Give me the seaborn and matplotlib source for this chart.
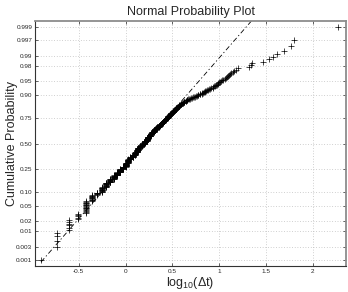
import numpy as np
import seaborn as sns
import matplotlib
matplotlib.use("Agg")
import matplotlib.pyplot as plt
from statistics import NormalDist

# waiting times dt in units of 1/16 and how many times each one occurs (500 in total)
dt16 = [2, 3, 4, 5, 6, 7, 8, 9, 10, 11, 12, 13, 14, 15, 16, 17, 18, 19, 20,
        21, 22, 23, 24, 25, 26, 27, 28, 29, 30, 31, 32, 33, 34, 35, 36, 37, 38,
        39, 40, 41, 42, 43, 44, 45, 46, 47, 48, 49, 50, 51, 52, 53, 54, 55, 56,
        57, 58, 59, 60, 61, 62, 63, 64, 66, 68, 70, 72, 74, 76, 78, 80, 82, 84,
        86, 88, 90, 92, 94, 96, 99, 101, 104, 106, 108, 110, 112, 114, 117, 120,
        123, 125, 128, 132, 136, 139, 142, 145, 148, 151, 154, 157, 161, 165,
        169, 173, 178, 183, 188, 192, 197, 203, 211, 216, 226, 233, 241, 252,
        334, 346, 358, 472, 548, 601, 659, 784, 942, 1009, 2945]
counts = [1, 4, 6, 5, 16, 11, 6, 13, 13, 12, 13, 12, 13, 10, 17, 17, 11, 11, 13,
          12, 12, 10, 9, 9, 8, 11, 12, 10, 6, 7, 9, 5, 6, 5, 6, 5, 5,
          4, 5, 4, 5, 4, 3, 4, 4, 3, 4, 3, 3, 2, 3, 4, 3, 2, 3,
          2, 2, 3, 2, 2, 1, 2, 1, 2, 3, 2, 3, 1, 1, 1, 1, 1, 1,
          1, 1, 1, 1, 1, 1, 1, 1, 1, 1, 1, 1, 1, 1, 1, 1,
          1, 1, 1, 1, 1, 1, 1, 1, 1, 1, 1, 1, 1, 1,
          1, 1, 1, 1, 1, 1, 1, 1, 1, 1, 1, 1, 1, 1,
          1, 1, 1, 1, 1, 1, 1, 1, 1, 1, 1]

prob_ticks = [0.001, 0.003, 0.01, 0.02, 0.05, 0.10, 0.25, 0.50,
              0.75, 0.90, 0.95, 0.98, 0.99, 0.997, 0.999]
prob_labels = ['0.001', '0.003', '0.01', '0.02', '0.05', '0.10', '0.25', '0.50',
               '0.75', '0.90', '0.95', '0.98', '0.99', '0.997', '0.999']
x_ticks = [-0.5, 0, 0.5, 1, 1.5, 2]
x_labels = ['-0.5', '0', '0.5', '1', '1.5', '2']

sns.set_style("ticks")
plt.rcParams['font.family'] = ['Liberation Sans', 'DejaVu Sans']
plt.rcParams['mathtext.default'] = 'regular'

nd = NormalDist()

#sorted sample and normal plotting positions
x = np.sort(np.log10(np.repeat(dt16, counts) / 16.0))
n = len(x)
p = (np.arange(1, n + 1) - 0.5) / n
z = np.array([nd.inv_cdf(pp) for pp in p])

#reference line through the quartiles
q1, q3 = np.percentile(x, [25, 75])
slope = (nd.inv_cdf(0.75) - nd.inv_cdf(0.25)) / (q3 - q1)
line_x = [x.min(), x.max()]
line_y = [nd.inv_cdf(0.25) + slope * (v - q1) for v in line_x]

fig = plt.figure(figsize=(3.48, 2.92), dpi=100)
ax = fig.add_axes([0.1006, 0.089, 0.8937, 0.839])

sns.lineplot(x=line_x, y=line_y, ax=ax, color='k', linewidth=0.6,
             linestyle=(0, (6, 3, 1.5, 3)))
sns.scatterplot(x=x, y=z, ax=ax, marker='+', color='k', s=18, linewidth=0.5,
                clip_on=False, zorder=3)

ax.set_xlim(-0.967, 2.355)
ax.set_ylim(-3.245, 3.245)
ax.set_xticks(x_ticks)
ax.set_xticklabels(x_labels)
ax.set_yticks([nd.inv_cdf(v) for v in prob_ticks])
ax.set_yticklabels(prob_labels)

ax.grid(True, linestyle=(0, (1, 2.5)), color='#b4b4b4', linewidth=0.55)
ax.tick_params(direction='in', length=2, width=0.5, top=True, right=True,
               labelsize=4.6, pad=2, colors='#262626')
for side in ['left', 'bottom']:
    ax.spines[side].set_color('#333333')
    ax.spines[side].set_linewidth(0.8)
for side in ['top', 'right']:
    ax.spines[side].set_color('#8c8c8c')
    ax.spines[side].set_linewidth(1.3)

ax.set_title("Normal Probability Plot", fontsize=9, pad=4)
ax.set_ylabel("Cumulative Probability", fontsize=9)
ax.set_xlabel("log$_{10}$(Δt)", fontsize=9)
ax.yaxis.set_label_coords(-0.055, 0.5)
ax.xaxis.set_label_coords(0.5, -0.037)

fig.savefig("out.png", dpi=100)
